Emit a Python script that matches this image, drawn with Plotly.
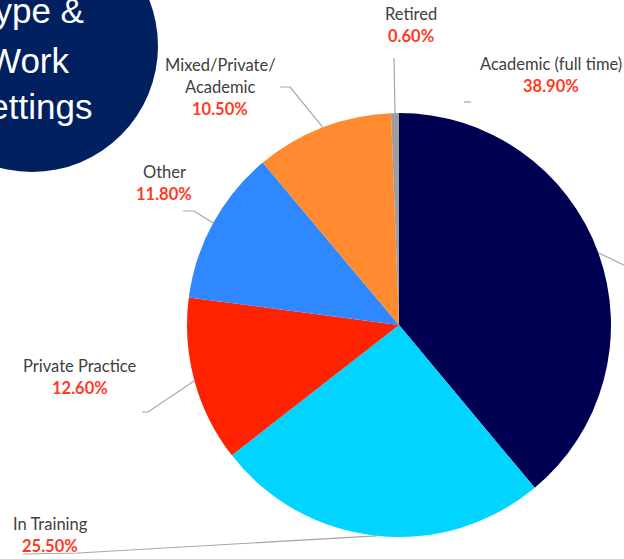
import math
import plotly.graph_objects as go

# ---- data -------------------------------------------------------------
categories = ["Academic (full time)", "In Training", "Private Practice",
              "Other", "Mixed/Private/Academic", "Retired"]
shares = [38.9, 25.5, 12.6, 11.8, 10.5, 0.6]
label_lines = [["Academic (full time)"], ["In Training"], ["Private Practice"],
               ["Other"], ["Mixed/Private/", "Academic"], ["Retired"]]
title_lines = ["Type &", "Work", "Settings"]

# ---- styling / layout -------------------------------------------------
W, H = 624, 559
colors = ["#000052", "#00D4FF", "#FF2200", "#2F88FF", "#FF8A30", "#9E9E9E"]
NAME_COLOR = "#404040"
PCT_COLOR = "#FF3B1F"
LINE_COLOR = "#A6A6A6"
LABEL_FONT = "Lato, Open Sans, sans-serif"
LABEL_SIZE = 16.5
LINE_GAP = 22

# pie placement in pixels
CX, CY, R = 399, 325, 212

# label anchor (centre of first text line) for each slice, in pixels
label_pos = [(551, 64), (50, 524), (80, 366), (164, 172), (220, 65), (411, 14)]
# leader-line points on the label side, in pixels (pie side is computed)
leader_pts = [
    [(632, 269)],
    [(23, 554), (78, 553)],
    [(142, 412), (148, 412)],
    [(183, 211), (194, 211)],
    [(280, 87), (290, 87)],
    [(394, 58)],
]


def px(x):
    return x / W


def py(y):
    return 1 - y / H


fig = go.Figure(go.Pie(
    labels=categories,
    values=shares,
    sort=False,
    direction="clockwise",
    rotation=0,
    marker=dict(colors=colors, line=dict(width=0)),
    textinfo="none",
    hovertemplate="%{label}: %{value:.2f}%<extra></extra>",
    domain=dict(x=[px(CX - R), px(CX + R)], y=[py(CY + R), py(CY - R)]),
))

shapes = []
annotations = []

total = sum(shares)
cum = 0.0
for i, (name_lines, share) in enumerate(zip(label_lines, shares)):
    mid = (cum + share / 2) / total * 2 * math.pi
    cum += share
    edge = (CX + R * math.sin(mid), CY - R * math.cos(mid))
    pts = leader_pts[i] + [edge]
    path = "M " + " L ".join(f"{px(x):.5f},{py(y):.5f}" for x, y in pts)
    shapes.append(dict(type="path", xref="paper", yref="paper", path=path,
                       line=dict(color=LINE_COLOR, width=1.2)))

    lx, ly = label_pos[i]
    for k, txt in enumerate(name_lines):
        annotations.append(dict(
            x=px(lx), y=py(ly + k * LINE_GAP), xref="paper", yref="paper",
            text=txt, showarrow=False, xanchor="center", yanchor="middle",
            font=dict(family=LABEL_FONT, size=LABEL_SIZE, color=NAME_COLOR)))
    annotations.append(dict(
        x=px(lx), y=py(ly + len(name_lines) * LINE_GAP), xref="paper", yref="paper",
        text=f"<b>{share:.2f}%</b>", showarrow=False, xanchor="center", yanchor="middle",
        font=dict(family=LABEL_FONT, size=LABEL_SIZE, color=PCT_COLOR)))

# small stray tick near the Academic label
shapes.append(dict(type="line", xref="paper", yref="paper",
                   x0=px(464), x1=px(471), y0=py(102), y1=py(102),
                   line=dict(color=LINE_COLOR, width=1.2)))

# title badge: navy disc with white text
BX, BY, BR = 32, 46, 126
shapes.append(dict(type="circle", xref="paper", yref="paper",
                   x0=px(BX - BR), x1=px(BX + BR), y0=py(BY + BR), y1=py(BY - BR),
                   fillcolor="#002060", line=dict(width=0)))
for txt, ty in zip(title_lines, [10, 60, 106]):
    annotations.append(dict(
        x=px(29), y=py(ty), xref="paper", yref="paper", text=txt,
        showarrow=False, xanchor="center", yanchor="middle",
        font=dict(family="Liberation Sans, Arial, sans-serif", size=35, color="white")))

fig.update_layout(
    width=W, height=H,
    margin=dict(l=0, r=0, t=0, b=0),
    paper_bgcolor="white",
    plot_bgcolor="white",
    showlegend=False,
    shapes=shapes,
    annotations=annotations,
)

fig.write_html("out.html")
